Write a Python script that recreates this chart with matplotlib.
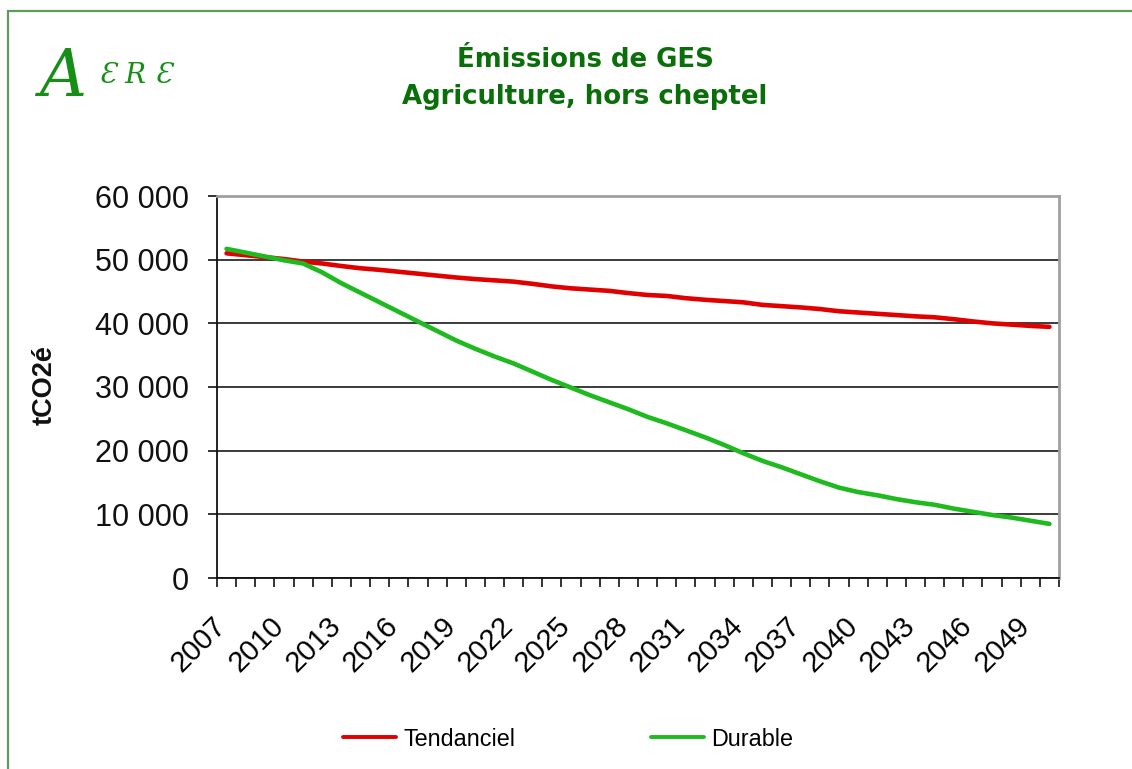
import matplotlib
matplotlib.use("Agg")
import matplotlib.pyplot as plt
import matplotlib.patches as mpatches
import matplotlib.transforms as mtransforms
from matplotlib.ticker import FuncFormatter, FixedLocator

# Annual emissions, tCO2e, 2007-2050
years = list(range(2007, 2051))
tendanciel = [51000, 50700, 50400, 50100, 49700, 49400, 49000, 48650, 48400, 48100,
              47800, 47500, 47200, 46950, 46750, 46550, 46200, 45800, 45500, 45300,
              45100, 44750, 44450, 44300, 43950, 43700, 43500, 43300, 42900, 42700,
              42500, 42250, 41900, 41700, 41500, 41300, 41100, 40950, 40650, 40300,
              40000, 39800, 39600, 39450]
durable = [51700, 51100, 50500, 49900, 49400, 48000, 46300, 44800, 43300, 41800,
           40300, 38800, 37300, 36000, 34800, 33700, 32400, 31100, 29900, 28700,
           27600, 26500, 25300, 24300, 23200, 22100, 20900, 19600, 18400, 17400,
           16300, 15200, 14200, 13500, 13000, 12400, 11900, 11500, 10900, 10400,
           9900, 9500, 9000, 8500]
series_names = ["Tendanciel", "Durable"]
title_lines = ["Émissions de GES", "Agriculture, hors cheptel"]

plt.rcParams["font.family"] = ["Liberation Sans", "DejaVu Sans"]

fig = plt.figure(figsize=(11.32, 7.69), dpi=100)
ax = fig.add_axes([217 / 1132, 1 - 578 / 769, (1059 - 217) / 1132, (578 - 196) / 769])

x = list(range(len(years)))
l1, = ax.plot(x, tendanciel, color="#e00000", lw=3.3, solid_capstyle="round", zorder=3)
l2, = ax.plot(x, durable, color="#1fba1f", lw=3.3, solid_capstyle="round", zorder=4)

ax.set_xlim(-0.5, len(years) - 0.5)
ax.set_ylim(0, 60000)

# y axis
ax.set_yticks(range(0, 60001, 10000))
ax.yaxis.set_major_formatter(FuncFormatter(lambda v, p: f"{int(v):,}".replace(",", " ")))
ax.tick_params(axis="y", direction="out", length=6.5, width=1.2, pad=14,
               labelsize=22, colors="#111111")
ax.yaxis.grid(True, color="#1a1a1a", lw=1.2)
ax.set_axisbelow(True)

# x axis: labels every 3 years, tick marks between categories
label_idx = list(range(0, len(years), 3))
ax.xaxis.set_major_locator(FixedLocator(label_idx))
ax.set_xticklabels([str(years[i]) for i in label_idx], rotation=45, ha="right", va="top")
ax.xaxis.set_minor_locator(FixedLocator([i - 0.5 for i in range(len(years) + 1)]))
ax.tick_params(axis="x", which="major", length=0, pad=24, labelsize=21)
ax.tick_params(axis="x", which="minor", direction="out", length=6.5, width=1.2, color="#111111")
shift = mtransforms.ScaledTranslation(5 / 100, 0, fig.dpi_scale_trans)
for lab in ax.get_xticklabels():
    lab.set_transform(lab.get_transform() + shift)

ax.spines["left"].set_color("#111111")
ax.spines["bottom"].set_color("#111111")
ax.spines["left"].set_linewidth(1.3)
ax.spines["bottom"].set_linewidth(1.3)
ax.spines["top"].set_color("#a0a0a0")
ax.spines["right"].set_color("#a0a0a0")
ax.spines["top"].set_linewidth(2)
ax.spines["right"].set_linewidth(2)

fig.text(45 / 1132, 1 - 385 / 769, "tCO2é", rotation=90, ha="center", va="center",
         fontsize=19.5, fontweight="bold", color="#111111")

# titles
fig.text(585 / 1132, 1 - 60 / 769, title_lines[0], ha="center", va="center",
         fontsize=18.7, fontweight="bold", color="#0a6e0a", family="DejaVu Sans")
fig.text(585 / 1132, 1 - 97 / 769, title_lines[1], ha="center", va="center",
         fontsize=18.7, fontweight="bold", color="#0a6e0a", family="DejaVu Sans")

# logo
fig.text(40 / 1132, 1 - 96 / 769, "A", fontsize=47, style="italic", family="DejaVu Serif",
         color="#178f17", ha="left", va="baseline")
fig.text(99 / 1132, 1 - 83 / 769, "Ɛ R Ɛ", fontsize=20, style="italic", family="DejaVu Serif",
         color="#178f17", ha="left", va="baseline")

# legend
fig.legend([l1, l2], series_names, loc="center", bbox_to_anchor=(568 / 1132, 1 - 739 / 769),
           ncol=2, frameon=False, fontsize=16.8, handlelength=2.3, handletextpad=0.3,
           columnspacing=5.8)
for h in fig.legends[0].get_lines():
    h.set_linewidth(2.8)

# outer frame
frame = mpatches.Rectangle((7.7 / 1132, -0.1), 1.2, 1.1 - 11.5 / 769,
                           transform=fig.transFigure, fill=False,
                           edgecolor="#5c9c5c", lw=1.6)
fig.add_artist(frame)

fig.savefig("out.png", dpi=100)
